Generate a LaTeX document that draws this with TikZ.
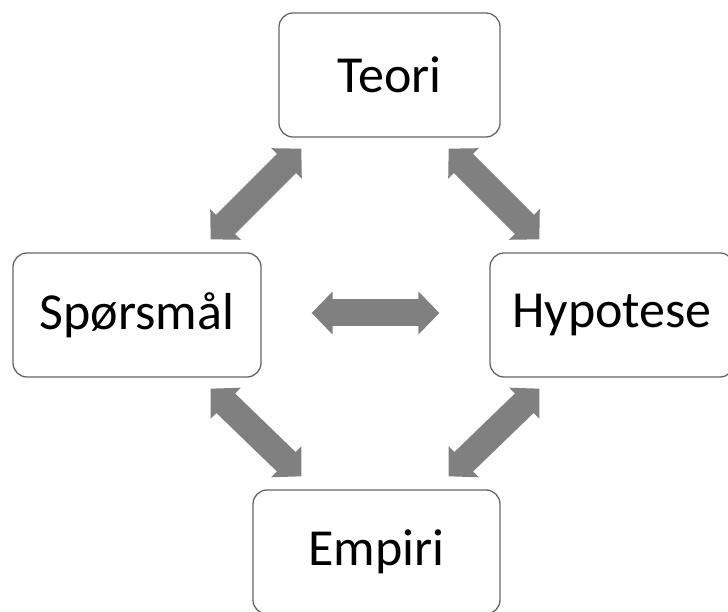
\documentclass[tikz,border=0pt]{standalone}
\usepackage{fontspec}
\setmainfont{Carlito}
\usetikzlibrary{arrows.meta}
\begin{document}
\begin{tikzpicture}[x=1pt,y=1pt,
        box/.style={draw=black!60,line width=1.3pt,fill=white,rounded corners=14pt,
            inner sep=0pt,minimum height=124pt,font=\fontsize{52}{60}\selectfont},
        blockarrow/.style={draw=gray,line width=27pt,
            {Triangle[width=42pt,length=21pt]}-{Triangle[width=42pt,length=21pt]}}]
        \useasboundingbox (0,0) rectangle (728,612);
        \node[box,minimum width=221pt] (teori) at (389.5,537) {Teori};
        \node[box,minimum width=248pt] (spm) at (137,297) {Spørsmål};
        \node[box,minimum width=244pt] (hyp) at (612,297) {Hypotese};
        \node[box,minimum width=247pt] (emp) at (376.5,60) {Empiri};
        \draw[blockarrow] ([shift={(23,-11)}]teori.south west)--([shift={(-51,13)}]spm.north east);
        \draw[blockarrow] ([shift={(-52,-11)}]teori.south east)--([shift={(50,13)}]hyp.north west);
        \draw[blockarrow] ([shift={(-51,-11)}]spm.south east)--([shift={(49,13)}]emp.north west);
        \draw[blockarrow] ([shift={(50,-11)}]hyp.south west)--([shift={(-52,13)}]emp.north east);
        \draw[blockarrow] ([shift={(50,2)}]spm.east)--([shift={(-50,2)}]hyp.west);
    \end{tikzpicture}
\end{document}
